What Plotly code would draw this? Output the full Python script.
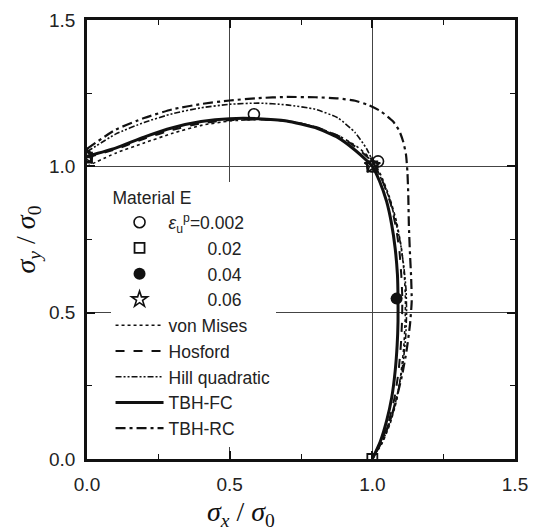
import plotly.graph_objects as go

# Normalised yield loci, sigma_x/sigma_0 vs sigma_y/sigma_0 (first quadrant)
fc_x = [0.0, 0.1, 0.2, 0.3, 0.4, 0.5, 0.6, 0.7, 0.8, 0.88, 0.94, 0.98, 1.0,
        1.025, 1.05, 1.068, 1.08, 1.088, 1.09, 1.09, 1.087, 1.08, 1.068, 1.05, 1.028, 1.0]
fc_y = [1.034, 1.062, 1.10, 1.132, 1.153, 1.163, 1.163, 1.155, 1.132, 1.098, 1.055, 1.02, 1.0,
        0.95, 0.88, 0.80, 0.72, 0.63, 0.55, 0.47, 0.39, 0.30, 0.21, 0.13, 0.06, 0.0]

hosford_x = [0.0, 0.1, 0.2, 0.3, 0.4, 0.5, 0.6, 0.7, 0.8, 0.89, 0.95, 0.99, 1.015,
             1.04, 1.065, 1.083, 1.095, 1.102, 1.105, 1.104, 1.10, 1.092, 1.078, 1.058, 1.032, 1.0]
hosford_y = [1.03, 1.058, 1.094, 1.125, 1.147, 1.158, 1.16, 1.155, 1.135, 1.10, 1.06, 1.025, 0.99,
             0.94, 0.87, 0.79, 0.71, 0.62, 0.55, 0.47, 0.39, 0.30, 0.21, 0.13, 0.06, 0.0]

mises_x = [0.0, 0.1, 0.2, 0.3, 0.4, 0.5, 0.6, 0.7, 0.8, 0.89, 0.95, 1.0,
           1.03, 1.06, 1.085, 1.102, 1.112, 1.116, 1.115, 1.11, 1.10, 1.085, 1.062, 1.035, 1.0]
mises_y = [1.0, 1.045, 1.08, 1.113, 1.14, 1.155, 1.16, 1.155, 1.135, 1.10, 1.065, 1.02,
           0.97, 0.895, 0.81, 0.72, 0.63, 0.55, 0.47, 0.38, 0.29, 0.20, 0.12, 0.055, 0.0]

hill_x = [0.0, 0.1, 0.2, 0.3, 0.4, 0.5, 0.6, 0.7, 0.8, 0.88, 0.94, 0.98, 1.01,
          1.035, 1.06, 1.08, 1.098, 1.11, 1.118, 1.12, 1.117, 1.108, 1.092, 1.07, 1.04, 1.0]
hill_y = [1.05, 1.11, 1.15, 1.18, 1.20, 1.212, 1.216, 1.21, 1.195, 1.165, 1.115, 1.06, 1.0,
          0.95, 0.89, 0.82, 0.74, 0.66, 0.58, 0.50, 0.42, 0.33, 0.24, 0.15, 0.07, 0.0]

rc_x = [0.0, 0.1, 0.2, 0.3, 0.4, 0.5, 0.6, 0.7, 0.8, 0.88, 0.94, 0.985, 1.03, 1.073,
        1.095, 1.108, 1.118, 1.123, 1.126, 1.128, 1.132, 1.136, 1.138, 1.132, 1.12,
        1.105, 1.088, 1.065, 1.035, 1.0]
rc_y = [1.06, 1.125, 1.165, 1.195, 1.213, 1.225, 1.233, 1.237, 1.236, 1.232, 1.224, 1.21, 1.188, 1.153,
        1.12, 1.085, 1.04, 0.98, 0.90, 0.80, 0.70, 0.62, 0.54, 0.46, 0.37,
        0.29, 0.22, 0.14, 0.065, 0.0]

# Experimental yield points for each plastic work level
p002_x = [0.0, 0.585, 1.0, 1.02]
p002_y = [1.034, 1.178, 1.0, 1.017]
p02_x = [0.0, 1.0, 1.0]
p02_y = [1.03, 1.0, 0.0]
p04_x = [1.085]
p04_y = [0.548]
p06_x = [0.0, 1.0]
p06_y = [1.034, 1.003]

line_series = [
    ("von Mises", mises_x, mises_y, "dot", 1.6, 5),
    ("Hosford", hosford_x, hosford_y, "dash", 2.0, 6),
    ("Hill quadratic", hill_x, hill_y, "6px,2px,2px,2px,2px,2px", 1.6, 7),
    ("TBH-FC", fc_x, fc_y, "solid", 3.0, 8),
    ("TBH-RC", rc_x, rc_y, "10px,4px,3px,4px", 2.2, 9),
]

FS = "\u2007"  # figure space keeps the level labels aligned
point_series = [
    ("<i>ε</i><sub>u</sub><sup>p</sup>=0.002", p002_x, p002_y,
     dict(symbol="circle-open", size=11, color="#111", line=dict(width=1.6)), 1),
    (FS * 4 + "0.02", p02_x, p02_y,
     dict(symbol="square-open", size=10, color="#111", line=dict(width=1.8)), 2),
    (FS * 4 + "0.04", p04_x, p04_y,
     dict(symbol="circle", size=12, color="#111"), 3),
    (FS * 4 + "0.06", p06_x, p06_y,
     dict(symbol="star-open", size=12, color="#111", line=dict(width=1.6)), 4),
]

SANS = "Liberation Sans, Arial, sans-serif"
SERIF = "Liberation Serif, Times New Roman, serif"

fig = go.Figure()

for name, xs, ys, dash, width, rank in line_series:
    fig.add_trace(go.Scatter(
        x=xs, y=ys, mode="lines", name=name, legendrank=rank,
        line=dict(color="#111", width=width, dash=dash, shape="spline", smoothing=0.5),
    ))

for name, xs, ys, marker, rank in point_series:
    fig.add_trace(go.Scatter(
        x=xs, y=ys, mode="markers", name=name, legendrank=rank, marker=marker,
    ))

axis_common = dict(
    range=[0, 1.5], dtick=0.5, tick0=0,
    tickformat=".1f",
    showline=True, linecolor="#111", linewidth=2.5, mirror="allticks",
    ticks="inside", ticklen=8, tickwidth=1.5, tickcolor="#111",
    showgrid=True, gridcolor="#444", gridwidth=1.4,
    zeroline=False,
    minor=dict(dtick=0.25, ticks="inside", ticklen=5, tickwidth=1.3,
               tickcolor="#111", showgrid=False),
    tickfont=dict(family=SANS, size=19, color="#222"),
    ticklabeloverflow="allow",
)

fig.update_xaxes(**axis_common, ticklabelstandoff=6)
fig.update_yaxes(**axis_common, ticklabelstandoff=5,
                 title=dict(text="<i>σ<sub>y</sub></i> / <i>σ</i><sub>0</sub>",
                            font=dict(family=SERIF, size=28, color="#111"),
                            standoff=6))

# x-axis title sits below the 0.5 tick
fig.add_annotation(
    x=0.54, xref="x", y=-0.125, yref="paper", yanchor="middle",
    text="<i>σ<sub>x</sub></i> / <i>σ</i><sub>0</sub>", showarrow=False,
    font=dict(family=SERIF, size=28, color="#111"),
)

fig.update_layout(
    width=538, height=532,
    margin=dict(l=87, r=10, t=19, b=73),
    paper_bgcolor="white", plot_bgcolor="white",
    showlegend=True,
    legend=dict(
        x=0.055, y=0.632, xanchor="left", yanchor="top",
        bgcolor="white", borderwidth=0,
        title=dict(text="Material E", font=dict(family=SANS, size=17.5, color="#222")),
        font=dict(family=SANS, size=17.5, color="#222"),
        itemwidth=48, tracegroupgap=0,
    ),
)

fig.write_html("out.html")
